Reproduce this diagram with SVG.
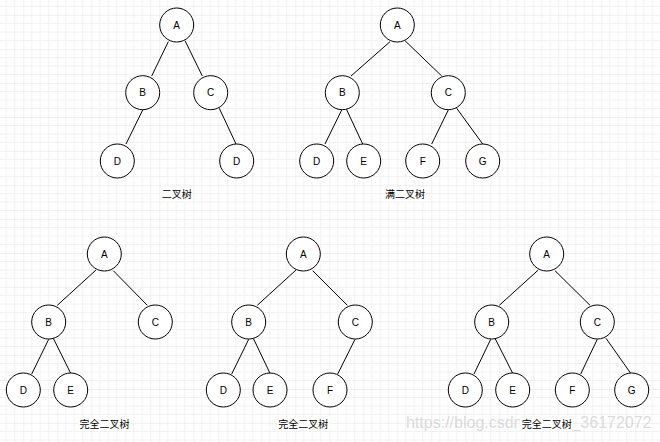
<svg xmlns="http://www.w3.org/2000/svg" width="660" height="442" viewBox="0 0 660 442">
<style>
.n circle{fill:#fff;stroke:#000;stroke-width:1}
.n text{font-family:"Liberation Sans",Arial,sans-serif;font-size:10px;fill:#000;text-anchor:middle}
#edges line{stroke:#000;stroke-width:1}
.lbl{font-family:"Noto Sans CJK SC","Noto Sans",sans-serif;font-size:10px;fill:#000;text-anchor:middle}
.wm{font-family:"Liberation Sans",Arial,sans-serif;font-size:16px;fill:#bdbdbd;fill-opacity:0.55}
</style>
<defs>
<pattern id="grid" patternUnits="userSpaceOnUse" x="23.3" y="15" width="34" height="34">
<path d="M8.5 0V34M17 0V34M25.5 0V34M0 8.5H34M0 17H34M0 25.5H34" stroke="#f2f2f2" stroke-width="1" fill="none"/>
<path d="M0 0V34M0 0H34" stroke="#e4e4e4" stroke-width="1" fill="none"/>
</pattern>
</defs>
<rect width="660" height="442" fill="#fff"/>
<rect width="660" height="442" fill="url(#grid)"/>

<g id="edges">
<line x1="168.3" y1="41.7" x2="151.7" y2="76"/>
<line x1="185" y1="40.7" x2="202.3" y2="76"/>
<line x1="142.7" y1="110" x2="126" y2="144"/>
<line x1="219.3" y1="108.3" x2="236" y2="144"/>

<line x1="390" y1="41.7" x2="351" y2="76"/>
<line x1="405" y1="40.7" x2="441.7" y2="76"/>
<line x1="341.7" y1="110" x2="325" y2="144"/>
<line x1="346" y1="108.3" x2="362.7" y2="144"/>
<line x1="448.3" y1="110" x2="431.7" y2="144"/>
<line x1="456.7" y1="108.3" x2="482.7" y2="144"/>

<line x1="96" y1="270" x2="57.3" y2="305.3"/>
<line x1="113.3" y1="270.7" x2="147.3" y2="305.3"/>
<line x1="48.7" y1="339.3" x2="31.7" y2="374"/>
<line x1="53.3" y1="338.3" x2="70.7" y2="373.3"/>

<line x1="296" y1="270" x2="257.3" y2="305.3"/>
<line x1="312.7" y1="270.7" x2="347.3" y2="305.3"/>
<line x1="248.7" y1="339.3" x2="231.7" y2="374"/>
<line x1="253.3" y1="338.3" x2="270" y2="373.3"/>
<line x1="355" y1="339.3" x2="337.7" y2="374"/>

<line x1="538.3" y1="270" x2="499.3" y2="305.3"/>
<line x1="555" y1="270.7" x2="590" y2="305.3"/>
<line x1="490.7" y1="339.3" x2="474" y2="374"/>
<line x1="495" y1="338.3" x2="512.7" y2="373.3"/>
<line x1="597.3" y1="339.3" x2="580.7" y2="374"/>
<line x1="606" y1="338.3" x2="630.7" y2="373.3"/>
</g>

<!-- Tree 1 -->
<g id="t1-A" class="n"><circle cx="176.7" cy="25" r="17"/><text x="176.7" y="28.6">A</text></g>
<g id="t1-B" class="n"><circle cx="142.7" cy="92.7" r="17"/><text x="142.7" y="96.3">B</text></g>
<g id="t1-C" class="n"><circle cx="210.7" cy="92.7" r="17"/><text x="210.7" y="96.3">C</text></g>
<g id="t1-D1" class="n"><circle cx="117.3" cy="161" r="17"/><text x="117.3" y="164.6">D</text></g>
<g id="t1-D2" class="n"><circle cx="236.7" cy="161" r="17"/><text x="236.7" y="164.6">D</text></g>

<!-- Tree 2 -->
<g id="t2-A" class="n"><circle cx="397.3" cy="25" r="17"/><text x="397.3" y="28.6">A</text></g>
<g id="t2-B" class="n"><circle cx="342.3" cy="92.7" r="17"/><text x="342.3" y="96.3">B</text></g>
<g id="t2-C" class="n"><circle cx="448.3" cy="92.7" r="17"/><text x="448.3" y="96.3">C</text></g>
<g id="t2-D" class="n"><circle cx="316.7" cy="161" r="17"/><text x="316.7" y="164.6">D</text></g>
<g id="t2-E" class="n"><circle cx="363.7" cy="161" r="17"/><text x="363.7" y="164.6">E</text></g>
<g id="t2-F" class="n"><circle cx="422.7" cy="161" r="17"/><text x="422.7" y="164.6">F</text></g>
<g id="t2-G" class="n"><circle cx="482.7" cy="161" r="17"/><text x="482.7" y="164.6">G</text></g>

<!-- Tree 3 -->
<g id="t3-A" class="n"><circle cx="104.3" cy="254" r="17"/><text x="104.3" y="257.6">A</text></g>
<g id="t3-B" class="n"><circle cx="48.7" cy="322" r="17"/><text x="48.7" y="325.6">B</text></g>
<g id="t3-C" class="n"><circle cx="155.3" cy="322" r="17"/><text x="155.3" y="325.6">C</text></g>
<g id="t3-D" class="n"><circle cx="23.3" cy="390" r="17"/><text x="23.3" y="393.6">D</text></g>
<g id="t3-E" class="n"><circle cx="70.7" cy="390" r="17"/><text x="70.7" y="393.6">E</text></g>

<!-- Tree 4 -->
<g id="t4-A" class="n"><circle cx="303.3" cy="254" r="17"/><text x="303.3" y="257.6">A</text></g>
<g id="t4-B" class="n"><circle cx="248.7" cy="322" r="17"/><text x="248.7" y="325.6">B</text></g>
<g id="t4-C" class="n"><circle cx="355.3" cy="322" r="17"/><text x="355.3" y="325.6">C</text></g>
<g id="t4-D" class="n"><circle cx="223.3" cy="390" r="17"/><text x="223.3" y="393.6">D</text></g>
<g id="t4-E" class="n"><circle cx="270" cy="390" r="17"/><text x="270" y="393.6">E</text></g>
<g id="t4-F" class="n"><circle cx="330" cy="390" r="17"/><text x="330" y="393.6">F</text></g>

<!-- Tree 5 -->
<g id="t5-A" class="n"><circle cx="546.7" cy="254" r="17"/><text x="546.7" y="257.6">A</text></g>
<g id="t5-B" class="n"><circle cx="491.7" cy="322" r="17"/><text x="491.7" y="325.6">B</text></g>
<g id="t5-C" class="n"><circle cx="597.3" cy="322" r="17"/><text x="597.3" y="325.6">C</text></g>
<g id="t5-D" class="n"><circle cx="465.3" cy="390" r="17"/><text x="465.3" y="393.6">D</text></g>
<g id="t5-E" class="n"><circle cx="512.7" cy="390" r="17"/><text x="512.7" y="393.6">E</text></g>
<g id="t5-F" class="n"><circle cx="572.3" cy="390" r="17"/><text x="572.3" y="393.6">F</text></g>
<g id="t5-G" class="n"><circle cx="631.7" cy="390" r="17"/><text x="631.7" y="393.6">G</text></g>

<text class="wm" x="406" y="428">https://blog.csdn.net/qq_36172072</text>

<g id="labels">
<rect x="160" y="187" width="33" height="14" fill="#fff"/>
<text class="lbl" x="176.7" y="197.5">二叉树</text>
<rect x="384" y="187" width="42" height="14" fill="#fff"/>
<text class="lbl" x="405" y="197.5">满二叉树</text>
<rect x="78" y="417" width="53" height="14" fill="#fff"/>
<text class="lbl" x="104.5" y="427.7">完全二叉树</text>
<rect x="277" y="417" width="53" height="14" fill="#fff"/>
<text class="lbl" x="303.3" y="427.7">完全二叉树</text>
<rect x="520" y="417" width="53" height="14" fill="#fff"/>
<text class="lbl" x="546.7" y="427.7">完全二叉树</text>
</g>
</svg>
